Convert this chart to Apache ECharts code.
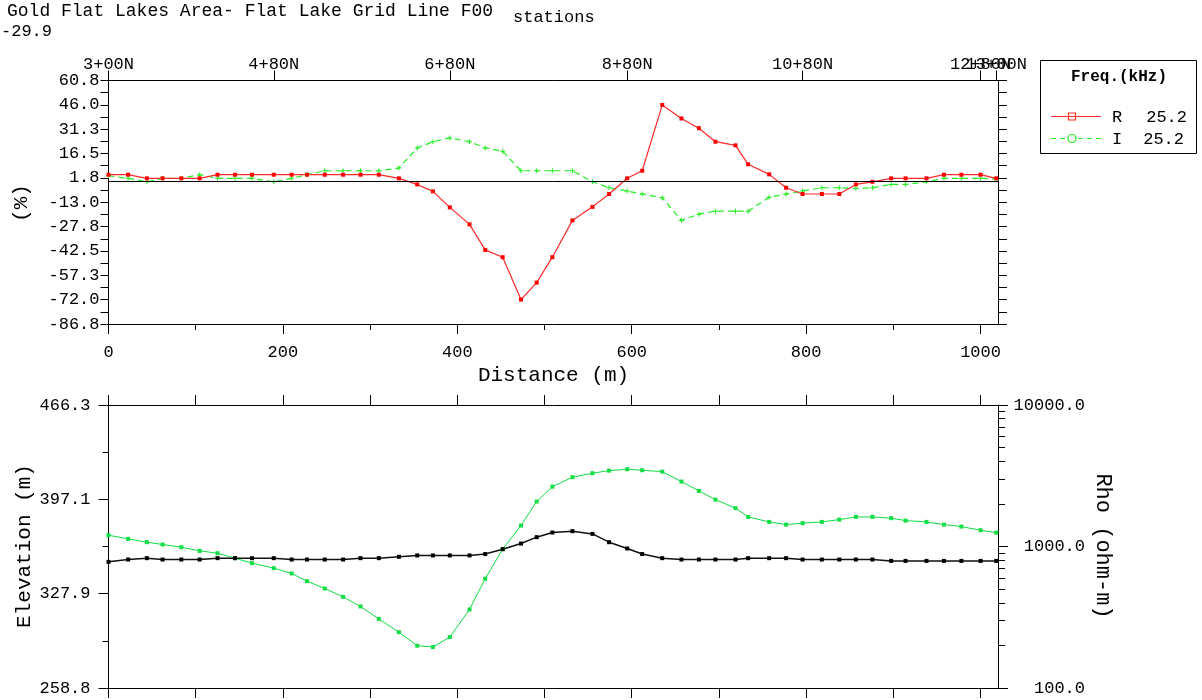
<!DOCTYPE html>
<html>
<head>
<meta charset="utf-8">
<script src="https://cdn.jsdelivr.net/npm/echarts@6/dist/echarts.min.js"></script>
<style>
  html, body { margin: 0; padding: 0; background: #fff; }
  #chart { width: 1202px; height: 700px; }
</style>
</head>
<body>
<div id="chart"></div>
<script>
// Station distances along the line (m), stations every 20 m from 3+00N to 13+00N
const distance = [0, 22.5, 44, 62, 83.5, 104.5, 125, 145, 164.6, 189.5,
  210, 227.6, 248, 269, 289, 310, 333, 354, 372, 391.4,
  414, 432, 452, 473, 491, 509, 532, 555, 574, 594.8,
  612, 635, 657, 677, 696, 719, 733.5, 757.6, 777, 795.9,
  818, 838, 857, 876, 897.5, 914, 938, 958, 978, 1000, 1018];

// VLF in-phase (R) and quadrature (I) response at 25.2 kHz (%)
const rPct = [3.7, 3.7, 1.5, 1.5, 1.5, 1.5, 3.7, 3.7, 3.7, 3.7,
  3.7, 3.7, 3.7, 3.7, 3.7, 3.7, 1.5, -2.2, -6.4, -16.1,
  -26.4, -41.9, -46.3, -72.0, -61.7, -46.3, -24.0, -15.8, -8.0, 1.5,
  6.1, 46.0, 37.8, 31.9, 23.7, 21.5, 10.0, 3.9, -4.2, -8.0,
  -8.0, -8.0, -2.2, -0.6, 1.5, 1.5, 1.5, 3.7, 3.7, 3.7, 1.5];
const iPct = [3.1, 1.5, -0.6, 1.5, 1.5, 3.7, 1.5, 1.5, 1.5, -0.6,
  1.5, 3.7, 6.1, 6.1, 6.1, 6.1, 7.7, 19.9, 23.7, 26.0,
  23.7, 19.9, 17.9, 6.1, 6.1, 6.1, 6.1, -0.6, -4.2, -6.2,
  -8.0, -10.3, -24.0, -20.2, -18.4, -18.4, -18.4, -10.0, -8.0, -6.2,
  -4.2, -4.2, -4.6, -4.2, -2.2, -2.2, -0.6, 1.5, 1.5, 1.5, 1.0];

// Elevation (m) and apparent resistivity (ohm-m)
const elevation = [351.3, 353.0, 354.0, 353.0, 353.0, 353.0, 354.0, 354.0, 354.0, 354.0,
  353.0, 353.0, 353.0, 353.0, 354.0, 354.0, 355.0, 356.0, 356.0, 356.0,
  356.0, 357.0, 360.6, 364.7, 369.4, 372.8, 373.8, 371.8, 365.7, 361.1,
  357.0, 354.0, 353.0, 353.0, 353.0, 353.0, 354.0, 354.0, 354.0, 353.0,
  353.0, 353.0, 353.0, 353.0, 352.0, 352.0, 352.0, 352.0, 352.0, 352.0, 352.0];
const rho = [1202, 1132, 1073, 1033, 989, 931, 897, 827, 763, 703,
  645, 569, 505, 441, 377, 308, 248, 199, 195, 229,
  359, 592, 957, 1406, 2077, 2649, 3088, 3296, 3438, 3516,
  3459, 3381, 2876, 2473, 2145, 1866, 1619, 1492, 1428, 1462,
  1492, 1549, 1619, 1619, 1585, 1524, 1492, 1428, 1383, 1303, 1253];

// Station labels along the top axis
const stationTickIdx = [0, 9, 19, 29, 39, 49, 50];
const stationLabels = ['3+00N', '4+80N', '6+80N', '8+80N', '10+80N', '12+80N', '13+00N'];
// Distance axis labels
const distLabels = [0, 200, 400, 600, 800, 1000];
// Percent axis range
const pctMin = -86.8, pctMax = 60.8, pctStep = 14.76;
// Elevation axis labels
const elevLabels = ['258.8', '327.9', '397.1', '466.3'];
// Resistivity minor ticks
const rhoMinor = [200, 300, 400, 500, 600, 700, 800, 900, 2000, 3000, 4000, 5000, 6000, 7000, 8000, 9000];

const FONT = 'Liberation Mono';
const stationTicks = stationTickIdx.map(i => distance[i]);
const pairs = arr => arr.map((v, i) => [distance[i], v]);
const elevMin = parseFloat(elevLabels[0]);
const elevMax = parseFloat(elevLabels[elevLabels.length - 1]);
const elevStep = (elevMax - elevMin) / (elevLabels.length - 1);
const black = { color: '#000', width: 1 };
const stationName = v => {
  const k = stationTicks.findIndex(t => Math.abs(t - v) < 0.01);
  return k >= 0 ? stationLabels[k] : '';
};

// Station axis: the last station sits on its own axis so its label is
// drawn even where it runs into the previous one.
const stationAxis = (ticks, withLine) => ({
  gridIndex: 0, type: 'value', position: 'top', min: 0, max: 1020,
  axisLine: { show: withLine, onZero: false, lineStyle: black },
  axisTick: { show: true, length: 10, customValues: ticks, lineStyle: black },
  axisLabel: {
    customValues: ticks, fontSize: 17, margin: 8, color: '#000', fontFamily: FONT,
    hideOverlap: false, showMinLabel: true, showMaxLabel: true, formatter: stationName
  },
  splitLine: { show: false }
});

const chart = echarts.init(document.getElementById('chart'));

const option = {
  animation: false,
  textStyle: { fontFamily: FONT, color: '#000' },
  grid: [
    { left: 108.5, top: 80.5, width: 889.5, height: 243.5, outerBoundsMode: 'none', containLabel: false },
    { left: 108.5, top: 405, width: 889.5, height: 283, outerBoundsMode: 'none', containLabel: false }
  ],
  xAxis: [
    { // distance axis of the percent panel
      gridIndex: 0, type: 'value', position: 'bottom', min: 0, max: 1020,
      axisLine: { show: true, onZero: false, lineStyle: black },
      axisTick: { show: true, length: 10, customValues: distLabels, lineStyle: black },
      axisLabel: { customValues: distLabels, fontSize: 17, margin: 20, color: '#000', fontFamily: FONT,
        showMinLabel: true, showMaxLabel: true, formatter: v => String(v) },
      splitLine: { show: false }
    },
    { // intermediate distance ticks
      gridIndex: 0, type: 'value', position: 'bottom', min: 0, max: 1020,
      axisLine: { show: false, onZero: false },
      axisTick: { show: true, length: 6, customValues: [100, 300, 500, 700, 900], lineStyle: black },
      axisLabel: { show: false },
      splitLine: { show: false }
    },
    stationAxis(stationTicks.slice(0, -1), true),
    stationAxis(stationTicks.slice(-1), false),
    { // distance axis of the profile panel
      gridIndex: 1, type: 'value', position: 'bottom', min: 0, max: 1020,
      axisLine: { show: true, onZero: false, lineStyle: black },
      axisTick: { show: true, length: 10, customValues: [0, 100, 200, 300, 400, 500, 600, 700, 800, 900, 1000], lineStyle: black },
      axisLabel: { show: false },
      splitLine: { show: false }
    },
    {
      gridIndex: 1, type: 'value', position: 'top', min: 0, max: 1020,
      axisLine: { show: true, onZero: false, lineStyle: black },
      axisTick: { show: true, length: 10, customValues: [0, 100, 200, 300, 400, 500, 600, 700, 800, 900, 1000], lineStyle: black },
      axisLabel: { show: false },
      splitLine: { show: false }
    }
  ],
  yAxis: [
    { // percent
      gridIndex: 0, type: 'value', position: 'left', min: pctMin, max: pctMax, interval: pctStep,
      axisLine: { show: true, onZero: false, lineStyle: black },
      axisTick: { show: true, length: 8, lineStyle: black },
      minorTick: { show: true, splitNumber: 2, length: 8, lineStyle: black },
      axisLabel: { fontSize: 17, margin: 9, color: '#000', fontFamily: FONT, formatter: v => v.toFixed(1) },
      splitLine: { show: false }
    },
    {
      gridIndex: 0, type: 'value', position: 'right', min: pctMin, max: pctMax, interval: pctStep,
      axisLine: { show: true, onZero: false, lineStyle: black },
      axisTick: { show: true, length: 9, lineStyle: black },
      minorTick: { show: true, splitNumber: 2, length: 9, lineStyle: black },
      axisLabel: { show: false },
      splitLine: { show: false }
    },
    { // elevation
      gridIndex: 1, type: 'value', position: 'left', min: elevMin, max: elevMax, interval: elevStep,
      axisLine: { show: true, onZero: false, lineStyle: black },
      axisTick: { show: true, length: 10, lineStyle: black },
      minorTick: { show: true, splitNumber: 2, length: 6, lineStyle: black },
      axisLabel: {
        fontSize: 17, margin: 18, color: '#000', fontFamily: FONT,
        formatter: v => {
          const k = Math.round((v - elevMin) / elevStep);
          return (k >= 0 && k < elevLabels.length && Math.abs(elevMin + k * elevStep - v) < 0.05) ? elevLabels[k] : '';
        }
      },
      splitLine: { show: false }
    },
    { // resistivity
      gridIndex: 1, type: 'log', logBase: 10, position: 'right', min: 100, max: 10000,
      axisLine: { show: true, onZero: false, lineStyle: black },
      axisTick: { show: true, length: 10, lineStyle: black },
      axisLabel: { fontSize: 17, margin: 87, align: 'right', color: '#000', fontFamily: FONT, formatter: v => Number(v).toFixed(1) },
      splitLine: { show: false }
    },
    { // resistivity minor ticks (log10 positions)
      gridIndex: 1, type: 'value', position: 'right', min: 2, max: 4,
      axisLine: { show: false, onZero: false },
      axisTick: { show: true, length: 7, customValues: rhoMinor.map(v => Math.log10(v)), lineStyle: black },
      axisLabel: { show: false },
      splitLine: { show: false }
    }
  ],
  series: [
    {
      name: 'I', type: 'line', xAxisIndex: 0, yAxisIndex: 0, data: pairs(iPct),
      lineStyle: { color: '#22ee22', width: 1.2, type: [6, 4] },
      itemStyle: { color: '#22ee22' },
      symbol: 'path://M2,0H3V2H5V3H3V5H2V3H0V2H2Z', symbolSize: 5, showSymbol: true
    },
    {
      name: 'R', type: 'line', xAxisIndex: 0, yAxisIndex: 0, data: pairs(rPct),
      lineStyle: { color: '#ff2a2a', width: 1.2 },
      itemStyle: { color: '#ff0000' },
      symbol: 'rect', symbolSize: 4, showSymbol: true,
      markLine: {
        silent: true, symbol: 'none', label: { show: false },
        lineStyle: { color: '#000', width: 1, type: 'solid' },
        data: [{ yAxis: 0 }]
      }
    },
    {
      name: 'Rho', type: 'line', xAxisIndex: 4, yAxisIndex: 3, data: pairs(rho),
      lineStyle: { color: '#11dd44', width: 1 },
      itemStyle: { color: '#11dd44' },
      symbol: 'rect', symbolSize: 4, showSymbol: true
    },
    {
      name: 'Elevation', type: 'line', xAxisIndex: 4, yAxisIndex: 2, data: pairs(elevation),
      lineStyle: { color: '#111', width: 1.5 },
      itemStyle: { color: '#000' },
      symbol: 'rect', symbolSize: 4, showSymbol: true
    }
  ],
  graphic: [
    { type: 'text', x: 7, y: 2, style: { text: 'Gold Flat Lakes Area- Flat Lake Grid Line F00', font: '18px "Liberation Mono"', fill: '#000' } },
    { type: 'text', x: 1, y: 23, style: { text: '-29.9', font: '17px "Liberation Mono"', fill: '#000' } },
    { type: 'text', x: 513, y: 9, style: { text: 'stations', font: '17px "Liberation Mono"', fill: '#000' } },
    { type: 'text', x: 553.5, y: 375, style: { text: 'Distance (m)', font: '21px "Liberation Mono"', fill: '#000', align: 'center', verticalAlign: 'middle' } },
    { type: 'text', x: 21, y: 203, rotation: Math.PI / 2, style: { text: '(%)', font: '21px "Liberation Mono"', fill: '#000', align: 'center', verticalAlign: 'middle' } },
    { type: 'text', x: 24, y: 546, rotation: Math.PI / 2, style: { text: 'Elevation (m)', font: '21px "Liberation Mono"', fill: '#000', align: 'center', verticalAlign: 'middle' } },
    { type: 'text', x: 1103, y: 546, rotation: -Math.PI / 2, style: { text: 'Rho (ohm-m)', font: '22px "Liberation Mono"', fill: '#000', align: 'center', verticalAlign: 'middle' } },
    // legend
    { type: 'rect', shape: { x: 1040.5, y: 60.5, width: 156, height: 93 }, style: { fill: '#fff', stroke: '#000', lineWidth: 1 } },
    { type: 'text', x: 1119, y: 77, style: { text: 'Freq.(kHz)', font: 'bold 16px "Liberation Mono"', fill: '#000', align: 'center', verticalAlign: 'middle' } },
    { type: 'line', shape: { x1: 1051, y1: 116.5, x2: 1101, y2: 116.5 }, style: { stroke: '#ff2a2a', lineWidth: 1.2 } },
    { type: 'rect', shape: { x: 1068.5, y: 113, width: 7, height: 7 }, style: { fill: 'none', stroke: '#ff2a2a', lineWidth: 1.2 } },
    { type: 'text', x: 1112, y: 117, style: { text: 'R', font: '17px "Liberation Mono"', fill: '#000', verticalAlign: 'middle' } },
    { type: 'text', x: 1187, y: 117, style: { text: '25.2', font: '17px "Liberation Mono"', fill: '#000', align: 'right', verticalAlign: 'middle' } },
    { type: 'line', shape: { x1: 1051, y1: 138.5, x2: 1101, y2: 138.5 }, style: { stroke: '#22ee22', lineWidth: 1.2, lineDash: [5, 4] } },
    { type: 'circle', shape: { cx: 1072, cy: 138.5, r: 4 }, style: { fill: '#fff', stroke: '#22ee22', lineWidth: 1.2 } },
    { type: 'text', x: 1112, y: 139, style: { text: 'I', font: '17px "Liberation Mono"', fill: '#000', verticalAlign: 'middle' } },
    { type: 'text', x: 1184, y: 139, style: { text: '25.2', font: '17px "Liberation Mono"', fill: '#000', align: 'right', verticalAlign: 'middle' } }
  ]
};

chart.setOption(option);
</script>
</body>
</html>
